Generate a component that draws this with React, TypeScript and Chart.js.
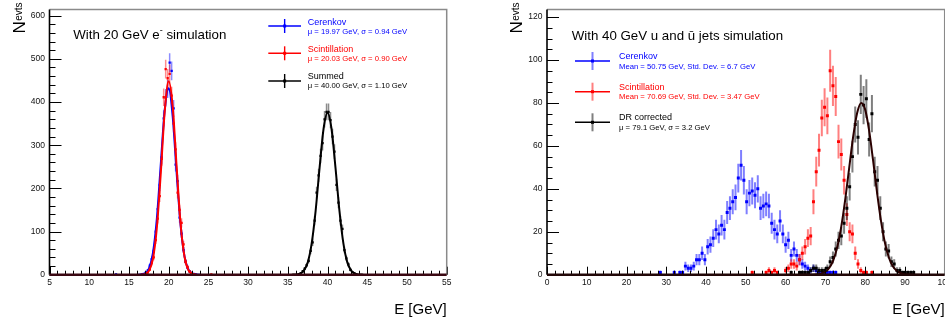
import React, { useEffect, useRef } from 'react';
import { Chart, registerables } from 'chart.js';
Chart.register(...registerables);

const FONT = '"Liberation Sans", Arial, Helvetica, sans-serif';

// ---------------- Left panel: 20 GeV e- ----------------
const leftCerenkovE = [13.375, 16.625, 16.875, 17.125, 17.375, 17.625, 17.875, 18.125, 18.375, 18.625, 18.875, 19.125, 19.375, 19.625, 19.875, 20.125, 20.375, 20.625, 20.875, 21.125, 21.375, 21.625, 21.875, 22.125, 22.375, 22.625, 22.875, 23.125, 23.375];
const leftCerenkovN = [1, 1, 2, 5, 10, 21, 36, 55, 100, 152, 208, 272, 362, 410, 430, 491, 472, 385, 255, 217, 132, 95, 57, 30, 16, 8, 4, 2, 1];

const leftScintE = [17.125, 17.375, 17.625, 17.875, 18.125, 18.375, 18.625, 18.875, 19.125, 19.375, 19.625, 19.875, 20.125, 20.375, 20.625, 20.875, 21.125, 21.375, 21.625, 21.875, 22.125, 22.375, 22.625, 22.875, 23.125, 25.375];
const leftScintN = [2, 5, 12, 28, 40, 80, 130, 182, 268, 411, 476, 455, 465, 415, 350, 290, 190, 150, 120, 70, 30, 18, 8, 4, 1, 1];

const leftSummedE = [36.375, 36.625, 36.875, 37.125, 37.375, 37.625, 37.875, 38.125, 38.375, 38.625, 38.875, 39.125, 39.375, 39.625, 39.875, 40.125, 40.375, 40.625, 40.875, 41.125, 41.375, 41.625, 41.875, 42.125, 42.375, 42.625, 42.875, 43.125, 43.375, 43.625];
const leftSummedN = [1, 3, 8, 14, 22, 32, 55, 75, 125, 190, 230, 275, 305, 360, 377, 377, 358, 320, 285, 208, 167, 125, 106, 57, 38, 24, 11, 6, 3, 1];

const leftCerenkovFitE = [16, 16.5, 17, 17.5, 18, 18.5, 19, 19.5, 20, 20.5, 21, 21.5, 22, 22.5, 23, 23.5, 24];
const leftCerenkovFitN = [0.1, 0.5, 2.9, 13.7, 48, 127, 254, 381, 432, 368, 237, 115, 42, 11.5, 2.4, 0.4, 0];
const leftScintFitE = [16.5, 17, 17.5, 18, 18.5, 19, 19.5, 20, 20.5, 21, 21.5, 22, 22.5, 23, 23.5];
const leftScintFitN = [0.2, 1.5, 8.6, 35, 106, 233, 377, 448, 391, 251, 118, 41, 10, 1.9, 0.3];
const leftSummedFitE = [35.5, 36, 36.5, 37, 37.5, 38, 38.5, 39, 39.5, 40, 40.5, 41, 41.5, 42, 42.5, 43, 43.5, 44, 44.5];
const leftSummedFitN = [0.1, 0.5, 2.4, 9.1, 28, 72, 148, 248, 338, 375, 338, 248, 148, 72, 28, 9.1, 2.4, 0.5, 0.1];

const leftXTicks = { min: 5, max: 55, major: 5, minor: 1 };
const leftYTicks = { min: 0, max: 614, major: 100, minor: 20 };

// ---------------- Right panel: 40 GeV u / ubar jets ----------------
const rightBinWidth = 0.7;
const rightCerenkovStart = 28.5;
const rightCerenkovN = [1, 0, 0, 0, 0, 1, 0, 1, 1, 4, 3, 3, 4, 7, 7, 10, 7, 13, 14, 17, 21, 19, 23, 21, 29, 31, 34, 36, 45, 51, 44, 34, 38, 39, 37, 40, 31, 32, 33, 32, 24, 21, 19, 25, 19, 14, 16, 9, 12, 9, 7, 5, 4, 3, 2, 3, 2, 1, 1, 1, 1, 1, 1, 1];
const rightScintStart = 51.6;
const rightScintN = [1, 0, 0, 0, 0, 1, 2, 1, 2, 1, 0, 0, 2, 3, 5, 5, 4, 7, 10, 13, 17, 18, 34, 48, 58, 73, 78, 74, 95, 88, 83, 62, 56, 44, 28, 20, 19, 10, 5, 2, 1, 1, 0, 1];
const rightDRStart = 61.4;
const rightDRN = [1, 0, 0, 1, 1, 1, 1, 2, 3, 3, 2, 2, 2, 3, 6, 8, 12, 16, 18, 24, 31, 41, 55, 70, 64, 84, 79, 82, 63, 75, 48, 44, 31, 20, 12, 11, 6, 5, 2, 2, 1, 1, 1, 1, 1];

const rightDRFitE = [64, 66, 68, 69, 70, 71, 72, 73, 74, 75, 76, 77, 78, 79, 80, 81, 82, 83, 84, 85, 86, 87, 88, 89, 90, 92, 94];
const rightDRFitN = [0, 0.02, 0.2, 0.55, 1.4, 3.25, 6.8, 13, 22.5, 35.2, 50, 64.5, 75.4, 80, 76.9, 67.1, 53.1, 38.1, 24.8, 14.6, 7.8, 3.8, 1.7, 0.67, 0.24, 0.02, 0];

const rightXTicks = { min: 0, max: 100, major: 10, minor: 2 };
const rightYTicks = { min: 0, max: 123.5, major: 20, minor: 5 };

// ---------------- helpers ----------------
function binCenters(start: number, width: number, n: number): number[] {
  const out: number[] = [];
  for (let i = 0; i < n; i++) out.push(Math.round((start + i * width) * 1000) / 1000);
  return out;
}
function pts(xs: number[], ys: number[]) {
  const out: { x: number; y: number }[] = [];
  for (let i = 0; i < xs.length; i++) if (ys[i] > 0) out.push({ x: xs[i], y: ys[i] });
  return out;
}
function curve(xs: number[], ys: number[]) {
  return xs.map((x, i) => ({ x, y: ys[i] }));
}

function pointSet(data: any[], color: string, err: string, errW: number, r: number) {
  return {
    data, showLine: false, pointStyle: 'rect', pointRadius: r, pointHoverRadius: r,
    backgroundColor: color, borderColor: color, borderWidth: 0, errColor: err, errWidth: errW,
  } as any;
}
function lineSet(data: any[], color: string, w: number) {
  return {
    data, showLine: true, pointRadius: 0, borderColor: color, borderWidth: w,
    cubicInterpolationMode: 'monotone', fill: false,
  } as any;
}

const errorBarPlugin = {
  id: 'errorBars',
  beforeDatasetDraw(chart: any, args: any) {
    const ds = chart.data.datasets[args.index];
    if (!ds.errColor) return;
    const ys = chart.scales.y;
    const ctx = chart.ctx;
    ctx.save();
    ctx.strokeStyle = ds.errColor;
    ctx.lineWidth = ds.errWidth;
    ctx.beginPath();
    args.meta.data.forEach((el: any, i: number) => {
      const v = ds.data[i].y;
      const e = Math.sqrt(v);
      ctx.moveTo(el.x, ys.getPixelForValue(v + e));
      ctx.lineTo(el.x, ys.getPixelForValue(Math.max(0, v - e)));
    });
    ctx.stroke();
    ctx.restore();
  },
};

type Run = { t: string; s: number; dy?: number };
function drawRuns(ctx: CanvasRenderingContext2D, x: number, y: number, runs: Run[], color: string) {
  let cx = x;
  ctx.fillStyle = color;
  ctx.textBaseline = 'alphabetic';
  ctx.textAlign = 'left';
  for (const r of runs) {
    ctx.font = `${r.s}px ${FONT}`;
    ctx.fillText(r.t, cx, y + (r.dy || 0));
    cx += ctx.measureText(r.t).width;
  }
}

type LegendEntry = { color: string; err: string; label: string; sub: string; cy: number; lb: number; sb: number };
type Decor = {
  xt: any; yt: any; yMajorLen: number; yMinorLen: number; xMajorLen: number; xMinorLen: number;
  title: Run[]; titleX: number; titleY: number;
  yTitleX: number; yTitleY: number; subDy: number;
  xTitleY: number; bottomColor: string;
  legend: LegendEntry[]; symX1: number; symX2: number; halfV: number; vW: number; textX: number;
};

function decorPlugin(d: Decor) {
  return {
    id: 'decor',
    afterDraw(chart: any) {
      const { ctx, chartArea: a, scales } = chart;
      const xs = scales.x, ys = scales.y;
      ctx.save();
      // ticks
      ctx.strokeStyle = '#000';
      ctx.lineWidth = 1;
      ctx.beginPath();
      const ny = Math.round((d.yt.max - d.yt.min) / d.yt.minor);
      for (let k = 0; k <= ny; k++) {
        const v = d.yt.min + k * d.yt.minor;
        if (v > d.yt.max) break;
        const major = Math.abs(v / d.yt.major - Math.round(v / d.yt.major)) < 1e-6;
        const p = Math.round(ys.getPixelForValue(v)) + 0.5;
        ctx.moveTo(a.left, p);
        ctx.lineTo(a.left + (major ? d.yMajorLen : d.yMinorLen), p);
      }
      const nx = Math.round((d.xt.max - d.xt.min) / d.xt.minor);
      for (let k = 0; k <= nx; k++) {
        const v = d.xt.min + k * d.xt.minor;
        const major = Math.abs(v / d.xt.major - Math.round(v / d.xt.major)) < 1e-6;
        const p = Math.round(xs.getPixelForValue(v)) + 0.5;
        ctx.moveTo(p, a.bottom);
        ctx.lineTo(p, a.bottom - (major ? d.xMajorLen : d.xMinorLen));
      }
      ctx.stroke();
      // frame
      ctx.strokeStyle = '#8a8a8a';
      ctx.lineWidth = 1.5;
      ctx.beginPath();
      ctx.moveTo(a.left, a.top);
      ctx.lineTo(a.right, a.top);
      ctx.lineTo(a.right, a.bottom);
      ctx.stroke();
      ctx.strokeStyle = '#000';
      ctx.lineWidth = 1.6;
      ctx.beginPath();
      ctx.moveTo(a.left, a.top);
      ctx.lineTo(a.left, a.bottom);
      ctx.stroke();
      ctx.strokeStyle = d.bottomColor;
      ctx.lineWidth = 2.4;
      ctx.beginPath();
      ctx.moveTo(a.left, a.bottom);
      ctx.lineTo(a.right, a.bottom);
      ctx.stroke();

      // title
      drawRuns(ctx, d.titleX, d.titleY, d.title, '#000');

      // y title (rotated)
      ctx.save();
      ctx.translate(d.yTitleX, d.yTitleY);
      ctx.rotate(-Math.PI / 2);
      ctx.fillStyle = '#000';
      ctx.textAlign = 'left';
      ctx.textBaseline = 'alphabetic';
      ctx.font = `17px ${FONT}`;
      ctx.fillText('N', 0, 0);
      const nw = ctx.measureText('N').width;
      ctx.font = `10px ${FONT}`;
      ctx.fillText('evts', nw + 0.5, d.subDy);
      ctx.restore();

      // x title
      ctx.fillStyle = '#000';
      ctx.font = `15px ${FONT}`;
      ctx.textAlign = 'right';
      ctx.textBaseline = 'alphabetic';
      ctx.fillText('E [GeV]', a.right, d.xTitleY);

      // legend
      const xc = (d.symX1 + d.symX2) / 2;
      for (const e of d.legend) {
        ctx.strokeStyle = e.color;
        ctx.lineWidth = 1.4;
        ctx.beginPath();
        ctx.moveTo(d.symX1, e.cy);
        ctx.lineTo(d.symX2, e.cy);
        ctx.stroke();
        ctx.strokeStyle = e.err;
        ctx.lineWidth = d.vW;
        ctx.beginPath();
        ctx.moveTo(xc, e.cy - d.halfV);
        ctx.lineTo(xc, e.cy + d.halfV);
        ctx.stroke();
        ctx.fillStyle = e.color;
        ctx.fillRect(xc - 1.5, e.cy - 1.5, 3, 3);
        drawRuns(ctx, d.textX, e.lb, [{ t: e.label, s: 9 }], e.color);
        drawRuns(ctx, d.textX, e.sb, [{ t: e.sub, s: 7.7 }], e.color);
      }
      ctx.restore();
    },
  };
}

type PanelProps = {
  left: number; width: number; datasets: any[]; xt: any; yt: any;
  yAxisWidth: number; rightPad: number; decor: Decor;
};

function Panel(p: PanelProps) {
  const ref = useRef<HTMLCanvasElement>(null);
  useEffect(() => {
    const canvas = ref.current!;
    const tickFont = { size: 8.5, family: FONT };
    const chart = new Chart(canvas, {
      type: 'scatter',
      data: { datasets: p.datasets },
      options: {
        animation: false,
        responsive: false,
        maintainAspectRatio: false,
        devicePixelRatio: 1,
        layout: { padding: { top: 6.7, right: p.rightPad, left: 0, bottom: 0 } },
        plugins: { legend: { display: false }, tooltip: { enabled: false } },
        scales: {
          x: {
            type: 'linear', min: p.xt.min, max: p.xt.max,
            ticks: { stepSize: p.xt.major, includeBounds: false, padding: 3, font: tickFont, color: '#111', maxRotation: 0, autoSkip: false },
            grid: { display: false, drawTicks: false },
            border: { display: false },
            afterFit: (s: any) => { s.height = 47.3; },
          },
          y: {
            type: 'linear', min: p.yt.min, max: p.yt.max,
            ticks: { stepSize: p.yt.major, includeBounds: false, padding: 4.5, font: tickFont, color: '#111', autoSkip: false },
            grid: { display: false, drawTicks: false },
            border: { display: false },
            afterFit: (s: any) => { s.width = p.yAxisWidth; },
          },
        },
      } as any,
      plugins: [errorBarPlugin as any, decorPlugin(p.decor) as any],
    });
    return () => chart.destroy();
  }, []);
  return (
    <canvas
      ref={ref}
      width={p.width}
      height={322}
      style={{ position: 'absolute', left: p.left, top: 0, width: p.width, height: 322 }}
    />
  );
}

export default function App() {
  const BLUE = '#0000ff', RED = '#ff0000', BLACK = '#000000';
  const leftDatasets = [
    lineSet(curve(leftScintFitE, leftScintFitN), RED, 2),
    pointSet(pts(leftScintE, leftScintN), RED, 'rgba(255,0,0,0.45)', 1.5, 1.6),
    lineSet(curve(leftCerenkovFitE, leftCerenkovFitN), BLUE, 2),
    pointSet(pts(leftCerenkovE, leftCerenkovN), BLUE, 'rgba(0,0,255,0.45)', 1.5, 1.6),
    lineSet(curve(leftSummedFitE, leftSummedFitN), BLACK, 2),
    pointSet(pts(leftSummedE, leftSummedN), BLACK, 'rgba(0,0,0,0.45)', 1.5, 1.6),
  ];
  const rCerE = binCenters(rightCerenkovStart, rightBinWidth, rightCerenkovN.length);
  const rSciE = binCenters(rightScintStart, rightBinWidth, rightScintN.length);
  const rDRE = binCenters(rightDRStart, rightBinWidth, rightDRN.length);
  const rightDatasets = [
    lineSet(curve(rightDRFitE, rightDRFitN), '#2a0000', 2),
    pointSet(pts(rDRE, rightDRN), BLACK, 'rgba(0,0,0,0.5)', 2, 2.1),
    pointSet(pts(rSciE, rightScintN), RED, 'rgba(255,0,0,0.5)', 2, 2.1),
    pointSet(pts(rCerE, rightCerenkovN), BLUE, 'rgba(0,0,255,0.5)', 2, 2.1),
  ];

  const leftDecor: Decor = {
    xt: leftXTicks, yt: leftYTicks, yMajorLen: 12, yMinorLen: 6, xMajorLen: 8, xMinorLen: 4,
    title: [{ t: 'With 20 GeV e', s: 13.3 }, { t: '-', s: 9, dy: -6 }, { t: ' simulation', s: 13.3 }],
    titleX: 73.3, titleY: 39,
    yTitleX: 25, yTitleY: 33.5, subDy: -3,
    xTitleY: 314, bottomColor: '#3a0812',
    legend: [
      { color: BLUE, err: BLUE, label: 'Cerenkov', sub: 'μ = 19.97 GeV, σ = 0.94 GeV', cy: 26, lb: 25, sb: 34 },
      { color: RED, err: RED, label: 'Scintillation', sub: 'μ = 20.03 GeV, σ = 0.90 GeV', cy: 53.3, lb: 52.3, sb: 61 },
      { color: BLACK, err: BLACK, label: 'Summed', sub: 'μ = 40.00 GeV, σ = 1.10 GeV', cy: 81, lb: 79, sb: 87.7 },
    ],
    symX1: 268.3, symX2: 301, halfV: 7, vW: 1.4, textX: 307.7,
  };
  const rightDecor: Decor = {
    xt: rightXTicks, yt: rightYTicks, yMajorLen: 12, yMinorLen: 5.5, xMajorLen: 8, xMinorLen: 4,
    title: [{ t: 'With 40 GeV u and ū jets simulation', s: 13.3 }],
    titleX: 81.7, titleY: 40,
    yTitleX: 31.7, yTitleY: 33.5, subDy: -3,
    xTitleY: 314, bottomColor: '#220808',
    legend: [
      { color: BLUE, err: 'rgba(0,0,255,0.5)', label: 'Cerenkov', sub: 'Mean = 50.75 GeV, Std. Dev. = 6.7 GeV', cy: 61, lb: 59.3, sb: 69 },
      { color: RED, err: 'rgba(255,0,0,0.5)', label: 'Scintillation', sub: 'Mean = 70.69 GeV, Std. Dev. = 3.47 GeV', cy: 91.7, lb: 90, sb: 99.3 },
      { color: BLACK, err: 'rgba(0,0,0,0.5)', label: 'DR corrected', sub: 'μ = 79.1 GeV, σ = 3.2 GeV', cy: 122.3, lb: 120, sb: 130 },
    ],
    symX1: 85, symX2: 120, halfV: 9, vW: 2, textX: 129,
  };

  return (
    <div style={{ position: 'fixed', left: 0, top: 0, width: 945, height: 322, overflow: 'hidden', background: '#fff' }}>
      <Panel left={0} width={490} datasets={leftDatasets} xt={leftXTicks} yt={leftYTicks} yAxisWidth={49.5} rightPad={43.3} decor={leftDecor} />
      <Panel left={490} width={520} datasets={rightDatasets} xt={rightXTicks} yt={rightYTicks} yAxisWidth={57} rightPad={65.3} decor={rightDecor} />
    </div>
  );
}
